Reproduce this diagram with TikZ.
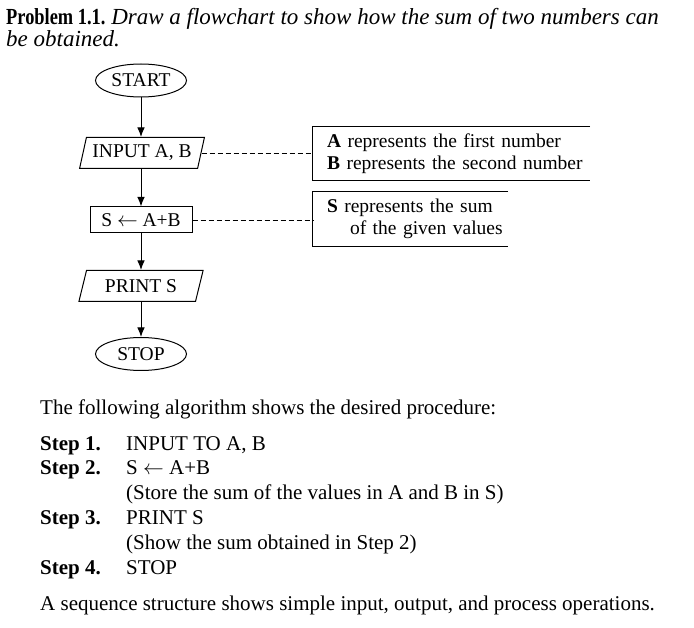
\documentclass[tikz,border=0pt]{standalone}
\usepackage{fontspec}
\setmainfont{Liberation Serif}
\usetikzlibrary{shapes.geometric,arrows.meta}
\begin{document}
\begin{tikzpicture}[x=1pt,y=-1pt,
  chartfont/.style={font=\fontsize{19.5}{22}\selectfont},
  body/.style={inner sep=0pt, anchor=base west, font=\fontsize{21}{24}\selectfont},
  titletext/.style={inner sep=0pt, anchor=base west, font=\fontsize{23}{25}\selectfont},
  term/.style={ellipse, draw, line width=1pt, minimum width=91pt, minimum height=33pt, inner sep=0pt, chartfont},
  io/.style={trapezium, trapezium left angle=69, trapezium right angle=111, trapezium stretches=true, draw, line width=1pt, minimum width=125pt, minimum height=31pt, inner sep=0pt, chartfont},
  proc/.style={rectangle, draw, line width=1pt, minimum width=102pt, minimum height=26pt, inner sep=0pt, chartfont},
  note/.style={rectangle, inner xsep=14pt, inner ysep=0pt, align=left, chartfont},
  noteline/.style={line width=1pt},
  flow/.style={-{Latex[length=9.5pt,width=7.5pt]}, line width=1pt},
  link/.style={dash pattern=on 5pt off 3pt, line width=0.8pt}
]
\useasboundingbox (0,0) rectangle (694,628);

% title
\node[titletext] (title1) at (6,25) {\scalebox{0.8}[1]{\textbf{Problem 1.1.}} \textit{Draw a flowchart to show how the sum of two numbers can}};
\node[titletext] (title2) at (6,46.5) {\textit{be obtained.}};

% flowchart
\node[term] (start) at (141,80.5) {START};
\node[io] (input) at (142,153) {INPUT A, B};
\node[proc] (sum) at (141,220) {S $\leftarrow$ A+B};
\node[io] (print) at (141,286) {PRINT S};
\node[term] (stop) at (141,354) {STOP};

\draw[flow] (start.south) -- (start.south |- input.north);
\draw[flow] (start.south |- input.south) -- (start.south |- sum.north);
\draw[flow] (sum.south) -- (sum.south |- print.north);
\draw[flow] (sum.south |- print.south) -- (stop.north);

% notes
\node[note, minimum width=277pt, minimum height=53pt, text width=249pt] (n1) at (451.5,153.5)
  {\mbox{\textbf{A} represents the first number}\\\mbox{\textbf{B} represents the second number}};
\draw[noteline] (n1.north east) -- (n1.north west) -- (n1.south west) -- (n1.south east);
\node[note, minimum width=195pt, minimum height=54pt, text width=167pt] (n2) at (410.5,219)
  {\mbox{\textbf{S} represents the sum}\\\mbox{\hspace*{23pt}of the given values}};
\draw[noteline] (n2.north east) -- (n2.north west) -- (n2.south west) -- (n2.south east);

\draw[link] (input.east) -- (input.east -| n1.west);
\draw[link] (sum.east) -- (sum.east -| n2.west);

% algorithm
\node[body] (intro) at (40,415) {The following algorithm shows the desired procedure:};
\node[body] (s1) at (40,450) {\textbf{Step 1.}};
\node[body] (t1) at (126,450) {INPUT TO A, B};
\node[body] (s2) at (40,475) {\textbf{Step 2.}};
\node[body] (t2) at (126,475) {S $\leftarrow$ A+B};
\node[body] (t2b) at (126,499) {(Store the sum of the values in A and B in S)};
\node[body] (s3) at (40,524) {\textbf{Step 3.}};
\node[body] (t3) at (126,524) {PRINT S};
\node[body] (t3b) at (126,549) {(Show the sum obtained in Step 2)};
\node[body] (s4) at (40,574) {\textbf{Step 4.}};
\node[body] (t4) at (126,574) {STOP};
\node[body] (concl) at (40,610) {A sequence structure shows simple input, output, and process operations.};
\end{tikzpicture}
\end{document}
